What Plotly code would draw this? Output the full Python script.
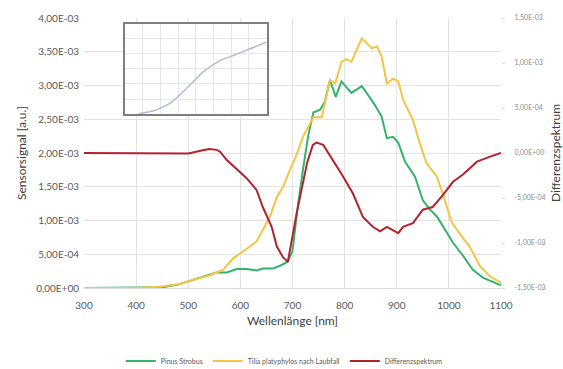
import numpy as np
import plotly.graph_objects as go

# Pinus Strobus (sensor signal, a.u.)
pinus_nm = [300, 400, 450, 480, 509, 528, 554, 574, 593, 612, 631, 643, 663, 676, 691,
            700, 710, 720, 730, 740, 753, 762, 772, 783, 794, 813, 833, 845, 858, 871,
            881, 893, 903, 916, 935, 950, 964, 977, 996, 1008, 1025, 1046, 1066, 1088, 1100]
pinus_val = [0.0, 0.0, 0.01, 0.05, 0.12, 0.17, 0.23, 0.23, 0.28, 0.28, 0.26, 0.29, 0.29, 0.33, 0.39,
             0.55, 1.2, 1.75, 2.25, 2.6, 2.64, 2.76, 3.08, 2.83, 3.06, 2.89, 2.99, 2.86, 2.71, 2.54,
             2.22, 2.24, 2.15, 1.87, 1.65, 1.30, 1.16, 1.06, 0.81, 0.67, 0.50, 0.27, 0.15, 0.08, 0.04]

# Tilia platyphylos nach Laubfall (sensor signal, a.u.)
tilia_nm = [300, 400, 446, 484, 509, 542, 567, 586, 605, 624, 631, 643, 657, 670, 682,
            695, 705, 720, 740, 756, 772, 782, 794, 804, 813, 833, 852, 862, 871, 881,
            893, 903, 912, 931, 944, 957, 977, 989, 1005, 1025, 1040, 1060, 1079, 1098, 1100]
tilia_val = [0.0, 0.0, 0.02, 0.06, 0.12, 0.19, 0.27, 0.44, 0.54, 0.66, 0.69, 0.86, 1.06, 1.35, 1.5,
             1.75, 1.92, 2.24, 2.53, 2.53, 3.08, 3.03, 3.35, 3.39, 3.35, 3.70, 3.55, 3.58, 3.43, 3.03,
             3.10, 3.06, 2.79, 2.49, 2.15, 1.85, 1.65, 1.38, 0.98, 0.76, 0.61, 0.32, 0.17, 0.09, 0.07]

# Differenzspektrum (secondary axis)
diff_nm = [300, 480, 500, 528, 540, 555, 561, 574, 593, 612, 631, 643, 660, 670, 682,
           691, 708, 728, 739, 746, 759, 778, 797, 816, 835, 854, 868, 881, 903, 912,
           931, 950, 969, 988, 1008, 1027, 1054, 1079, 1100]
diff_val = [0.0, 0.0, -0.005, 0.03, 0.044, 0.035, 0.015, -0.078, -0.18, -0.28, -0.41, -0.60, -0.82, -1.04, -1.16,
            -1.21, -0.67, -0.11, 0.09, 0.115, 0.09, -0.078, -0.26, -0.45, -0.71, -0.82, -0.87, -0.82, -0.89, -0.82,
            -0.78, -0.63, -0.60, -0.47, -0.32, -0.24, -0.096, -0.04, 0.0]

# Small inset curve
inset_x = [0.76, 1.61, 2.56, 3.5, 4.45, 5.4, 6.15, 7.1, 8.0]
inset_y = [0.02, 0.22, 0.73, 1.73, 2.84, 3.56, 3.91, 4.35, 4.78]

x_ticks = [300, 400, 500, 600, 700, 800, 900, 1000, 1100]
y_ticks = [0, 0.5e-3, 1.0e-3, 1.5e-3, 2.0e-3, 2.5e-3, 3.0e-3, 3.5e-3, 4.0e-3]
y_ticklabels = ["0,00E+00", "5,00E-04", "1,00E-03", "1,50E-03", "2,00E-03",
                "2,50E-03", "3,00E-03", "3,50E-03", "4,00E-03"]
y2_ticks = [-1.5e-3, -1.0e-3, -0.5e-3, 0, 0.5e-3, 1.0e-3, 1.5e-3]
y2_ticklabels = ["-1,50E-03", "-1,00E-03", "-5,00E-04", "0,00E+00",
                 "5,00E-04", "1,00E-03", "1,50E-03"]

FONT = "Lato"
GREEN = "#35b26b"
YELLOW = "#f6c443"
RED = "#b2232e"

fig = go.Figure()
fig.add_trace(go.Scatter(x=pinus_nm, y=np.array(pinus_val) * 1e-3, name="Pinus Strobus",
                         mode="lines", line=dict(color=GREEN, width=2)))
fig.add_trace(go.Scatter(x=tilia_nm, y=np.array(tilia_val) * 1e-3,
                         name="Tilia platyphylos nach Laubfall",
                         mode="lines", line=dict(color=YELLOW, width=2)))
fig.add_trace(go.Scatter(x=diff_nm, y=np.array(diff_val) * 1e-3, name="Differenzspektrum",
                         mode="lines", line=dict(color=RED, width=2), yaxis="y2"))
fig.add_trace(go.Scatter(x=inset_x, y=inset_y, mode="lines", showlegend=False,
                         line=dict(color="#b0bade", width=1.5, shape="spline", smoothing=0.6),
                         xaxis="x3", yaxis="y3", hoverinfo="skip"))

fig.update_layout(
    width=563, height=369,
    margin=dict(l=84, r=62, t=18, b=81, autoexpand=False),
    paper_bgcolor="white", plot_bgcolor="white",
    font=dict(family=FONT, color="#595959"),
    showlegend=True,
    legend=dict(orientation="h", xref="container", yref="container",
                x=0.505, y=0.022, xanchor="center", yanchor="middle",
                font=dict(size=7, color="#595959"), itemwidth=30, tracegroupgap=0),
    xaxis=dict(range=[300, 1100], tickvals=x_ticks, showgrid=True, gridcolor="#e3e3e3",
               gridwidth=1, zeroline=False, showline=True, linecolor="#d9d9d9",
               tickfont=dict(size=10, color="#595959"), ticks="", ticklabelstandoff=8,
               title=dict(text="Wellenlänge [nm]", font=dict(size=12, color="#404040"),
                          standoff=6)),
    yaxis=dict(range=[0, 4.0e-3], tickvals=y_ticks, ticktext=y_ticklabels,
               showgrid=True, gridcolor="#e3e3e3", zeroline=False,
               tickfont=dict(size=10, color="#595959"), ticks="", ticklabelstandoff=4,
               title=dict(text="Sensorsignal [a.u.]", font=dict(size=12, color="#404040"),
                          standoff=6)),
    yaxis2=dict(range=[-1.5e-3, 1.5e-3], tickvals=y2_ticks, ticktext=y2_ticklabels,
                overlaying="y", side="right", showgrid=False, zeroline=False,
                ticks="outside", ticklen=3, tickcolor="#d9d9d9", ticklabelstandoff=8,
                tickfont=dict(size=7, color="#8c8c8c"),
                title=dict(text="Differenzspektrum", font=dict(size=12, color="#404040"),
                           standoff=10)),
    xaxis3=dict(domain=[0.0983, 0.438], anchor="y3", range=[0, 8], dtick=1,
                showticklabels=False, showgrid=True, gridcolor="#e6e6e6", zeroline=False,
                showline=True, mirror=True, linecolor="#7f7f7f", linewidth=1.5, ticks=""),
    yaxis3=dict(domain=[0.644, 0.979], anchor="x3", range=[0, 6], dtick=1,
                showticklabels=False, showgrid=True, gridcolor="#e6e6e6", zeroline=False,
                showline=True, mirror=True, linecolor="#7f7f7f", linewidth=1.5, ticks=""),
)

fig.write_html("out.html")
